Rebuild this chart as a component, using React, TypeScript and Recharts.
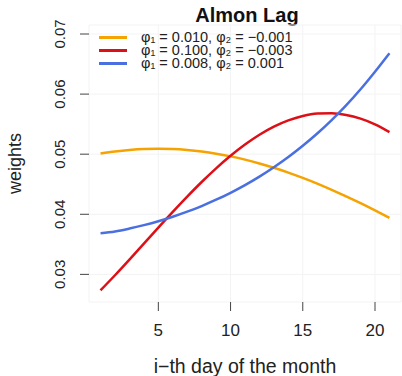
import { LineChart, Line, XAxis, YAxis, CartesianGrid, Legend, ReferenceArea, Label } from "recharts";

const days = [1, 2, 3, 4, 5, 6, 7, 8, 9, 10, 11, 12, 13, 14, 15, 16, 17, 18, 19, 20, 21];

const orangeWeights = [
  0.0501, 0.05044, 0.05069, 0.05085, 0.0509, 0.05085, 0.05069, 0.05044, 0.05009, 0.04964, 0.0491,
  0.04846, 0.04774, 0.04694, 0.04605, 0.0451, 0.04407, 0.04298, 0.04184, 0.04064, 0.0394,
];
const redWeights = [
  0.02735, 0.02985, 0.03245, 0.03512, 0.03778, 0.0404, 0.04294, 0.04537, 0.04765, 0.04974, 0.05161,
  0.05324, 0.05459, 0.05563, 0.05636, 0.05676, 0.05682, 0.05653, 0.05591, 0.05497, 0.05368,
];
const blueWeights = [
  0.03685, 0.03714, 0.03762, 0.03819, 0.03884, 0.03959, 0.04043, 0.04137, 0.04242, 0.04358, 0.04486,
  0.04627, 0.04783, 0.04953, 0.0514, 0.05344, 0.05568, 0.05812, 0.0608, 0.06372, 0.0668,
];

const seriesKeys = ["orange", "red", "blue"];
const seriesColors = ["#F5A300", "#DD1018", "#4A6FE0"];
const seriesNames = [
  "φ₁ = 0.010, φ₂ = −0.001",
  "φ₁ = 0.100, φ₂ = −0.003",
  "φ₁ = 0.008, φ₂ = 0.001",
];

const xTicks = [5, 10, 15, 20];
const yTicks = [0.03, 0.04, 0.05, 0.06, 0.07];

const data = days.map((d, i) => ({
  day: d,
  orange: orangeWeights[i],
  red: redWeights[i],
  blue: blueWeights[i],
}));

const font = "'Liberation Sans', Arial, sans-serif";

function YTick(props: any) {
  const { x, y, payload } = props;
  return (
    <text
      x={x}
      y={y}
      transform={`rotate(-90, ${x}, ${y})`}
      textAnchor="middle"
      fontSize={15}
      fill="#222"
      fontFamily={font}
    >
      {payload.value.toFixed(2)}
    </text>
  );
}

function LegendBox() {
  return (
    <div style={{ fontFamily: font, fontSize: 14.5, lineHeight: "13px", color: "#222" }}>
      {seriesKeys.map((k, i) => (
        <div key={k} style={{ display: "flex", alignItems: "center", height: 13, whiteSpace: "nowrap" }}>
          <span style={{ display: "inline-block", width: 28, height: 3, background: seriesColors[i], marginRight: 14 }} />
          <span>{seriesNames[i]}</span>
        </div>
      ))}
    </div>
  );
}

export default function App() {
  return (
    <div style={{ position: "absolute", left: 0, top: 0, width: 402, height: 376, background: "#fff", fontFamily: font }}>
      <div
        style={{
          position: "absolute",
          left: 89,
          width: 316,
          top: 4,
          textAlign: "center",
          fontWeight: "bold",
          fontSize: 20,
          lineHeight: "23px",
          color: "#111",
        }}
      >
        Almon Lag
      </div>
      <LineChart width={402} height={376} data={data} margin={{ top: 25, right: 1, bottom: 0, left: 0 }}>
        <CartesianGrid stroke="#f3f3f3" />
        <XAxis
          dataKey="day"
          type="number"
          domain={[0.2, 21.8]}
          ticks={xTicks}
          height={74}
          tickSize={9}
          tickMargin={13}
          axisLine={false}
          tickLine={{ stroke: "#444" }}
          tick={{ fontSize: 17, fill: "#222", fontFamily: font }}
        >
          <Label
            value={"i\u2212th day of the month"}
            position="insideBottom"
            offset={3}
            style={{ fontSize: 19.5, fill: "#222", fontFamily: font }}
          />
        </XAxis>
        <YAxis
          type="number"
          domain={[0.0254, 0.0715]}
          ticks={yTicks}
          width={89}
          tickSize={9}
          tickMargin={15}
          axisLine={false}
          tickLine={{ stroke: "#444" }}
          tick={<YTick />}
        >
          <Label
            content={(p: any) => {
              const vb = p.viewBox;
              const cx = vb.x + 21;
              const cy = vb.y + vb.height / 2;
              return (
                <text
                  x={cx}
                  y={cy}
                  transform={`rotate(-90, ${cx}, ${cy})`}
                  textAnchor="middle"
                  fontSize={18}
                  fill="#222"
                  fontFamily={font}
                >
                  weights
                </text>
              );
            }}
          />
        </YAxis>
        <ReferenceArea fill="none" stroke="#444" strokeWidth={1} ifOverflow="visible" />
        {seriesKeys.map((k, i) => (
          <Line
            key={k}
            dataKey={k}
            name={seriesNames[i]}
            type="monotone"
            stroke={seriesColors[i]}
            strokeWidth={2.5}
            dot={false}
            isAnimationActive={false}
          />
        ))}
        <Legend
          verticalAlign="middle"
          align="center"
          content={<LegendBox />}
          wrapperStyle={{ left: 99, top: 31, width: "auto" }}
        />
      </LineChart>
    </div>
  );
}
